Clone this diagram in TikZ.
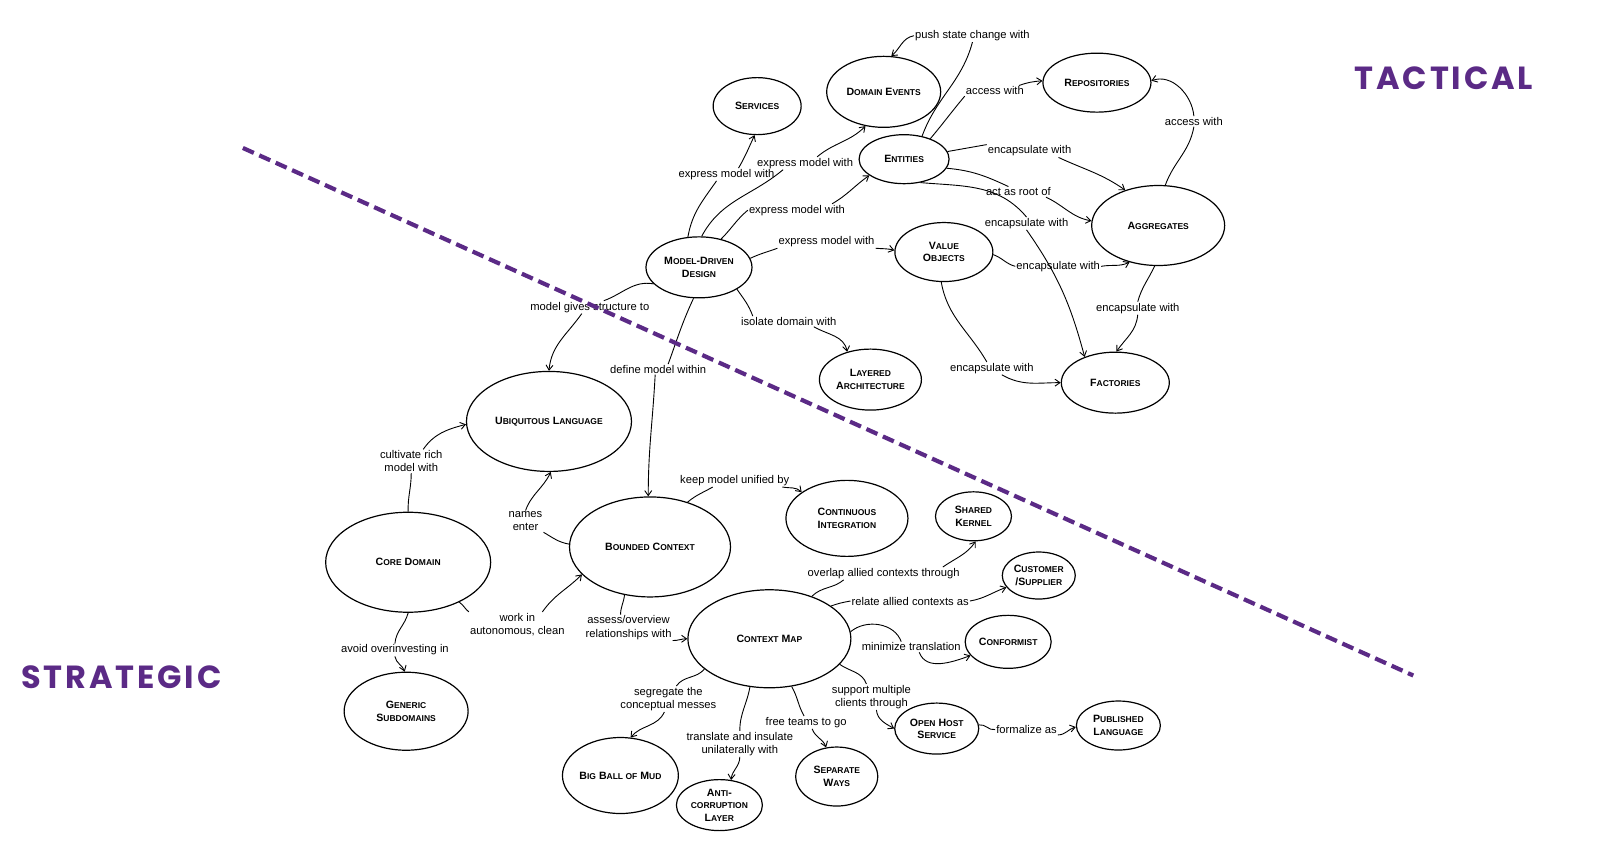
\documentclass[tikz,border=0pt]{standalone}
\usepackage{fontspec}
\setmainfont{Liberation Sans}
\newfontfamily\handfont[LetterSpace=9]{Poppins}
\usetikzlibrary{shapes.geometric,arrows.meta}
\definecolor{purp}{HTML}{5B2A86}
\newcommand\nodefont{\fontsize{10.6}{12.4}\selectfont\bfseries}
\newcommand\lblfont{\fontsize{11.2}{13.2}\selectfont}
\newcommand\sk[1]{{\fontsize{8.5}{12.4}\selectfont #1}}
\tikzset{
  el/.style={draw, ellipse, line width=1.2pt, inner sep=0pt, align=center, font=\nodefont},
  lb/.style={inner sep=1pt, align=center, font=\lblfont},
  ln/.style={line width=0.9pt},
  ar/.style={line width=0.9pt, -{Straight Barb[length=5pt,width=7pt]}},
  dashline/.style={purp, line width=4.2pt, dash pattern=on 12pt off 6pt},
  bigtitle/.style={text=purp, font=\handfont\bfseries\fontsize{32}{36}\selectfont, inner sep=0pt}
}
\begin{document}
\begin{tikzpicture}[x=1.0204pt,y=1.0204pt]
\useasboundingbox (0,0) rectangle (1568,-829);
% ---- nodes
\node[el, minimum width=88pt, minimum height=57pt] (svc) at (742,-104) {S\sk{ERVICES}};
\node[el, minimum width=114pt, minimum height=71pt] (de) at (866,-90) {D\sk{OMAIN} E\sk{VENTS}};
\node[el, minimum width=108pt, minimum height=59pt] (rep) at (1075,-81) {R\sk{EPOSITORIES}};
\node[el, minimum width=90pt, minimum height=49pt] (ent) at (886,-156) {E\sk{NTITIES}};
\node[el, minimum width=133pt, minimum height=80pt] (agg) at (1135,-221) {A\sk{GGREGATES}};
\node[el, minimum width=98pt, minimum height=59pt] (vo) at (925,-247) {V\sk{ALUE}\\O\sk{BJECTS}};
\node[el, minimum width=106pt, minimum height=61pt] (mdd) at (685,-262) {M\sk{ODEL}-D\sk{RIVEN}\\D\sk{ESIGN}};
\node[el, minimum width=102pt, minimum height=61pt] (la) at (853,-372) {L\sk{AYERED}\\A\sk{RCHITECTURE}};
\node[el, minimum width=108pt, minimum height=61pt] (fac) at (1093,-375) {F\sk{ACTORIES}};
\node[el, minimum width=165pt, minimum height=100pt] (ul) at (538,-413) {U\sk{BIQUITOUS} L\sk{ANGUAGE}};
\node[el, minimum width=122pt, minimum height=76pt] (ci) at (830,-508) {C\sk{ONTINUOUS}\\I\sk{NTEGRATION}};
\node[el, minimum width=76pt, minimum height=49pt] (sk) at (954,-506) {S\sk{HARED}\\K\sk{ERNEL}};
\node[el, minimum width=73pt, minimum height=47pt] (cs) at (1018,-564) {C\sk{USTOMER}\\/S\sk{UPPLIER}};
\node[el, minimum width=165pt, minimum height=100pt] (cd) at (400,-551) {C\sk{ORE} D\sk{OMAIN}};
\node[el, minimum width=161pt, minimum height=100pt] (bc) at (637,-536) {B\sk{OUNDED} C\sk{ONTEXT}};
\node[el, minimum width=163pt, minimum height=98pt] (cm) at (754,-626) {C\sk{ONTEXT} M\sk{AP}};
\node[el, minimum width=86pt, minimum height=53pt] (conf) at (988,-629) {C\sk{ONFORMIST}};
\node[el, minimum width=124pt, minimum height=78pt] (gs) at (398,-697) {G\sk{ENERIC}\\S\sk{UBDOMAINS}};
\node[el, minimum width=84pt, minimum height=51pt] (ohs) at (918,-714) {O\sk{PEN} H\sk{OST}\\S\sk{ERVICE}};
\node[el, minimum width=84pt, minimum height=49pt] (pl) at (1096,-711) {P\sk{UBLISHED}\\L\sk{ANGUAGE}};
\node[el, minimum width=112pt, minimum height=76pt] (bbom) at (608,-760) {B\sk{IG} B\sk{ALL OF} M\sk{UD}};
\node[el, minimum width=86pt, minimum height=51pt] (acl) at (705,-789) {A\sk{NTI}-\\\sk{CORRUPTION}\\L\sk{AYER}};
\node[el, minimum width=82pt, minimum height=59pt] (sw) at (820,-761) {S\sk{EPARATE}\\W\sk{AYS}};
% ---- labels
\node[lb] (l1) at (712,-171) {express model with};
\node[lb] (l2) at (789,-160) {express model with};
\node[lb] (l3) at (781,-206) {express model with};
\node[lb] (l4) at (810,-237) {express model with};
\node[lb] (l5) at (953,-35) {push state change with};
\node[lb] (l6) at (975,-89) {access with};
\node[lb] (l7) at (1009,-148) {encapsulate with};
\node[lb] (l8) at (998,-188) {act as root of};
\node[lb] (l9) at (1006,-219) {encapsulate with};
\node[lb] (l10) at (1037,-261) {encapsulate with};
\node[lb] (l11) at (972,-361) {encapsulate with};
\node[lb] (l12) at (1170,-119) {access with};
\node[lb] (l13) at (1115,-302) {encapsulate with};
\node[lb] (l14) at (773,-315) {isolate domain with};
\node[lb] (l15) at (578,-301) {model gives structure to};
\node[lb] (l16) at (645,-362) {define model within};
\node[lb] (l17) at (403,-452) {cultivate rich\\model with};
\node[lb] (l18) at (515,-511) {names\\enter};
\node[lb] (l19) at (720,-471) {keep model unified by};
\node[lb] (l20) at (507,-612) {work in\\autonomous, clean};
\node[lb] (l21) at (387,-637) {avoid overinvesting in};
\node[lb] (l22) at (616,-615) {assess/overview\\relationships with};
\node[lb] (l23) at (866,-562) {overlap allied contexts through};
\node[lb] (l24) at (892,-589) {relate allied contexts as};
\node[lb] (l25) at (893,-634) {minimize translation};
\node[lb] (l26) at (854,-683) {support multiple\\clients through};
\node[lb] (l27) at (1006,-715) {formalize as};
\node[lb] (l28) at (655,-685) {segregate the\\conceptual messes};
\node[lb] (l29) at (725,-729) {translate and insulate\\unilaterally with};
\node[lb] (l30) at (790,-708) {free teams to go};
% ---- connectors
\draw[ln] (mdd.110) to[out=80,in=235] ([xshift=-10pt]l1.south);
\draw[ar] ([xshift=12pt]l1.north) to[out=60,in=245] (svc.-95);
\draw[ln] (mdd.85) to[out=62,in=220] ([xshift=-22pt]l2.south);
\draw[ar] ([xshift=12pt]l2.north) to[out=40,in=225] (de.-118);
\draw[ln] (mdd.52) to[out=45,in=220] (l3.west);
\draw[ar] ([xshift=-14pt]l3.north east) to[out=30,in=215] (ent.205);
\draw[ln] (mdd.10) to[out=25,in=200] (l4.south west);
\draw[ar] (l4.south east) to[out=-5,in=165] (vo.178);
\draw[ln] (ent.52) to[out=70,in=-105] (l5.south);
\draw[ar] (l5.west) to[out=190,in=40] (de.78);
\draw[ln] (ent.38) to[out=50,in=230] (l6.south west);
\draw[ar] ([xshift=-6pt]l6.north east) to[out=20,in=185] (rep.178);
\draw[ln] (ent.10) to[out=10,in=190] (l7.north west);
\draw[ar] ([xshift=-14pt]l7.south east) to[out=-25,in=145] (agg.133);
\draw[ln] (ent.-12) to[out=-5,in=155] ([xshift=-10pt]l8.north);
\draw[ar] ([xshift=-6pt]l8.south east) to[out=-25,in=170] (agg.176);
\draw[ln] (ent.-55) to[out=-5,in=130] (l9.north);
\draw[ar] (l9.south) to[out=-55,in=105] (fac.140);
\draw[ln] (vo.-3) to[out=-20,in=165] (l10.west);
\draw[ar] (l10.east) to[out=10,in=205] (agg.-128);
\draw[ln] (vo.-95) to[out=-80,in=120] ([xshift=-5pt]l11.north);
\draw[ar] ([xshift=10pt]l11.south) to[out=-30,in=180] (fac.180);
\draw[ln] (agg.80) to[out=70,in=-100] (l12.south);
\draw[ar] (l12.north) to[out=95,in=20] (rep.2);
\draw[ln] (agg.-95) to[out=-115,in=75] (l13.north);
\draw[ar] (l13.south) to[out=-95,in=55] (fac.88);
\draw[ln] (mdd.-30) to[out=-55,in=110] ([xshift=-36pt]l14.north);
\draw[ar] ([xshift=25pt]l14.south) to[out=-30,in=100] (la.130);
\draw[ln] (mdd.200) to[out=170,in=20] ([xshift=14pt]l15.north);
\draw[ar] ([xshift=-8pt]l15.south) to[out=-125,in=85] (ul.90);
\draw[ln] (mdd.-100) to[out=-115,in=70] ([xshift=10pt]l16.north);
\draw[ar] ([xshift=-3pt]l16.south) to[out=-93,in=90] (bc.92);
\draw[ln] (cd.90) to[out=92,in=-90] (l17.south);
\draw[ar] ([xshift=12pt]l17.north) to[out=55,in=195] (ul.182);
\draw[ln] (bc.178) to[out=170,in=-30] (l18.south east);
\draw[ar] (l18.north) to[out=70,in=-115] (ul.-88);
\draw[ln] (bc.50) to[out=40,in=-150] ([xshift=-22pt]l19.south);
\draw[ar] ([xshift=-8pt]l19.south east) to[out=-10,in=135] (ci.150);
\draw[ln] (cd.-38) to[out=-35,in=140] (l20.north west);
\draw[ar] ([xshift=25pt]l20.north) to[out=55,in=225] (bc.-158);
\draw[ln] (cd.-90) to[out=-105,in=85] (l21.north);
\draw[ar] (l21.south) to[out=-80,in=110] (gs.92);
\draw[ln] (bc.-118) to[out=-95,in=90] ([xshift=-8pt]l22.north);
\draw[ar] (l22.south east) to[out=0,in=180] (cm.180);
\draw[ln] (cm.45) to[out=45,in=-140] ([xshift=-40pt]l23.south);
\draw[ar] ([xshift=-18pt]l23.north east) to[out=35,in=-125] (sk.-85);
\draw[ln] (cm.28) to[out=20,in=190] (l24.west);
\draw[ar] (l24.east) to[out=10,in=200] (cs.200);
\draw[ln] (cm.5) to[out=40,in=110] ([xshift=-10pt]l25.north);
\draw[ar] ([xshift=8pt]l25.south) to[out=-70,in=200] (conf.200);
\draw[ln] (cm.-20) to[out=-35,in=110] ([xshift=-5pt]l26.north);
\draw[ar] ([xshift=5pt]l26.south) to[out=-85,in=150] (ohs.180);
\draw[ln] (ohs.5) to[out=10,in=190] (l27.west);
\draw[ar] (l27.south east) to[out=0,in=195] (pl.182);
\draw[ln] (cm.-155) to[out=-130,in=55] ([xshift=8pt]l28.north);
\draw[ar] ([xshift=-4pt]l28.south) to[out=-115,in=50] (bbom.75);
\draw[ln] (cm.-112) to[out=-100,in=90] (l29.north);
\draw[ar] (l29.south) to[out=-90,in=85] (acl.65);
\draw[ln] (cm.-65) to[out=-60,in=120] ([xshift=-2pt]l30.north);
\draw[ar] ([xshift=6pt]l30.south) to[out=-70,in=110] (sw.110);
% ---- divider and titles
\coordinate (dA) at (238,-145);
\coordinate (dB) at (1385,-662);
\draw[dashline] (dA) -- (dB);
\node[bigtitle] (tact) at (1415,-77) {TACTICAL};
\node[bigtitle] (strat) at (119,-664) {STRATEGIC};
\end{tikzpicture}
\end{document}
